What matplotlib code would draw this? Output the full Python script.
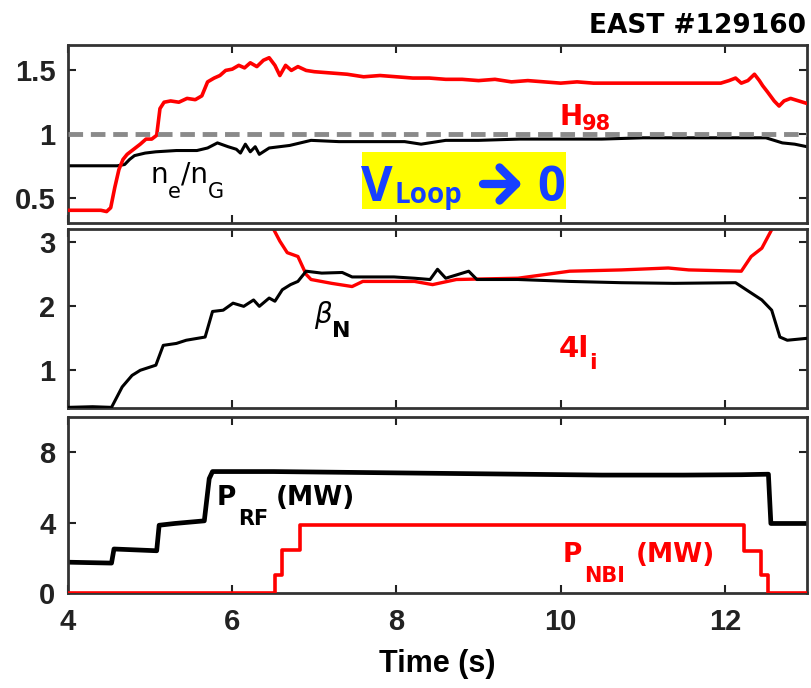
import matplotlib
matplotlib.use("Agg")
import matplotlib.pyplot as plt
from matplotlib.patches import Rectangle, FancyArrowPatch

# ---------------- data ----------------
# Panel 1: confinement factor H98 and Greenwald fraction ne/nG
t_h98 = [4.0, 4.2, 4.4, 4.47, 4.52, 4.57, 4.62, 4.67, 4.72, 4.8, 4.88, 4.95,
         5.02, 5.08, 5.12, 5.17, 5.25, 5.35, 5.45, 5.55, 5.63, 5.7, 5.78,
         5.85, 5.92, 6.0, 6.08, 6.15, 6.22, 6.3, 6.38, 6.45, 6.52, 6.58,
         6.65, 6.72, 6.8, 6.9, 7.0, 7.2, 7.4, 7.6, 7.8, 8.0, 8.2, 8.4, 8.6,
         8.8, 9.0, 9.2, 9.4, 9.6, 9.8, 10.0, 10.2, 10.4, 10.6, 10.8, 11.0,
         11.2, 11.4, 11.6, 11.8, 11.95, 12.05, 12.13, 12.2, 12.28, 12.36,
         12.42, 12.46, 12.52, 12.6, 12.66, 12.72, 12.8, 12.9, 13.0]
h98 = [0.40, 0.40, 0.40, 0.39, 0.42, 0.58, 0.72, 0.80, 0.84, 0.88, 0.92, 0.96,
       0.96, 0.99, 1.20, 1.25, 1.26, 1.25, 1.28, 1.27, 1.30, 1.41, 1.44,
       1.46, 1.50, 1.51, 1.54, 1.52, 1.56, 1.53, 1.58, 1.60, 1.54, 1.46,
       1.54, 1.50, 1.53, 1.50, 1.49, 1.48, 1.47, 1.45, 1.46, 1.45, 1.44,
       1.44, 1.43, 1.43, 1.42, 1.43, 1.41, 1.42, 1.41, 1.40, 1.41, 1.40,
       1.40, 1.40, 1.40, 1.40, 1.40, 1.40, 1.40, 1.40, 1.42, 1.44, 1.40,
       1.42, 1.47, 1.42, 1.38, 1.33, 1.26, 1.22, 1.26, 1.28, 1.26, 1.24]

t_ne = [4.0, 4.3, 4.6, 4.69, 4.75, 4.81, 4.94, 5.07, 5.32, 5.57, 5.7, 5.82,
        5.95, 6.05, 6.1, 6.16, 6.22, 6.28, 6.33, 6.45, 6.7, 6.96, 7.3, 7.7,
        8.1, 8.3, 8.6, 9.0, 9.5, 10.0, 10.5, 11.0, 11.5, 12.0, 12.5, 12.6,
        12.7, 12.85, 13.0]
ne_ng = [0.75, 0.75, 0.75, 0.76, 0.80, 0.83, 0.85, 0.86, 0.87, 0.87, 0.89,
         0.93, 0.90, 0.88, 0.85, 0.92, 0.86, 0.90, 0.84, 0.89, 0.91, 0.95,
         0.94, 0.94, 0.94, 0.92, 0.95, 0.95, 0.96, 0.96, 0.96, 0.97, 0.97,
         0.97, 0.97, 0.95, 0.93, 0.92, 0.90]

# Panel 2: normalised beta and 4*internal inductance
t_beta = [4.0, 4.3, 4.53, 4.66, 4.78, 4.88, 5.07, 5.16, 5.32, 5.44, 5.67,
          5.76, 5.89, 6.01, 6.14, 6.26, 6.33, 6.45, 6.52, 6.61, 6.71, 6.8,
          6.9, 7.09, 7.34, 7.46, 7.72, 7.97, 8.22, 8.41, 8.5, 8.6, 8.88,
          8.98, 9.48, 10.11, 10.74, 11.38, 12.13, 12.26, 12.45, 12.57,
          12.67, 12.76, 13.0]
beta_n = [0.41, 0.42, 0.41, 0.73, 0.91, 0.99, 1.07, 1.38, 1.41, 1.46, 1.51,
          1.91, 1.93, 2.04, 1.99, 2.09, 1.99, 2.12, 2.07, 2.25, 2.33, 2.38,
          2.54, 2.51, 2.52, 2.45, 2.45, 2.45, 2.43, 2.41, 2.57, 2.43, 2.54,
          2.41, 2.41, 2.38, 2.36, 2.35, 2.36, 2.25, 2.09, 1.93, 1.51, 1.46,
          1.49]

t_li = [6.42, 6.58, 6.67, 6.8, 6.9, 6.96, 7.21, 7.46, 7.59, 8.22, 8.44,
        8.73, 9.48, 10.11, 10.74, 11.31, 11.56, 12.2, 12.32, 12.45, 12.57,
        12.62]
four_li = [3.4, 3.01, 2.83, 2.77, 2.49, 2.41, 2.35, 2.30, 2.38, 2.38, 2.33,
           2.41, 2.43, 2.54, 2.56, 2.59, 2.56, 2.54, 2.77, 2.90, 3.19, 3.4]

# Panel 3: heating powers (MW)
t_rf = [4.0, 4.53, 4.56, 5.08, 5.11, 5.3, 5.66, 5.72, 5.76, 6.5, 7.5, 8.5,
        9.5, 10.5, 11.5, 12.2, 12.53, 12.56, 13.0]
p_rf = [1.75, 1.7, 2.5, 2.4, 3.85, 3.95, 4.1, 6.5, 6.9, 6.9, 6.85, 6.8,
        6.75, 6.7, 6.7, 6.72, 6.75, 3.95, 3.95]

t_nbi = [4.0, 6.52, 6.61, 6.82, 12.23, 12.44, 12.52, 13.0]
p_nbi = [0.0, 1.05, 2.45, 3.85, 2.4, 1.05, 0.0, 0.0]

x_ticks = [4, 6, 8, 10, 12]
y1_ticks, y1_labels = [0.5, 1.0, 1.5], ["0.5", "1", "1.5"]
y2_ticks, y2_labels = [1, 2, 3], ["1", "2", "3"]
y3_ticks, y3_labels = [0, 4, 8], ["0", "4", "8"]

# ---------------- style ----------------
RED = "#ff0000"
BLUE = "#1740ff"
plt.rcParams["font.family"] = ["Liberation Sans", "DejaVu Sans"]
plt.rcParams["font.weight"] = "bold"

W_PX, H_PX = 812, 688
fig = plt.figure(figsize=(W_PX / 100, H_PX / 100), dpi=100)


def fx(px):
    return px / W_PX


def fy(py):
    return 1 - py / H_PX


left, right = 68, 807
ax1 = fig.add_axes([fx(left), fy(223), fx(right - left), 178 / H_PX])
ax2 = fig.add_axes([fx(left), fy(408), fx(right - left), 179 / H_PX])
ax3 = fig.add_axes([fx(left), fy(593), fx(right - left), 176 / H_PX])

for ax in (ax1, ax2, ax3):
    ax.set_xlim(4, 13)
    ax.set_xticks(x_ticks)
    ax.tick_params(direction="in", length=6, width=1.5, top=True, right=True,
                   labelsize=21, pad=9, colors="#222222")
    for sp in ax.spines.values():
        sp.set_linewidth(2.0)
        sp.set_color("#333333")
for ax in (ax1, ax2):
    ax.tick_params(labelbottom=False)

ax1.set_ylim(0.3, 1.7)
ax1.set_yticks(y1_ticks, y1_labels)
ax2.set_ylim(0.4, 3.2)
ax2.set_yticks(y2_ticks, y2_labels)
ax3.set_ylim(0, 10)
ax3.set_yticks(y3_ticks, y3_labels)
ax3.tick_params(axis="x", pad=11)
ax3.set_xlabel("Time (s)", fontsize=22, fontweight="bold", labelpad=9)

# ---------------- curves ----------------
ax1.plot(t_ne, ne_ng, color="black", lw=2.2, zorder=2)
ax1.plot(t_h98, h98, color=RED, lw=2.6, zorder=3)
ax1.axhline(1.0, color="#8a8a8a", lw=3.5, dashes=(3, 1.6), zorder=4)

ax2.plot(t_li, four_li, color=RED, lw=2.4, zorder=2)
ax2.plot(t_beta, beta_n, color="black", lw=2.2, zorder=3)

ax3.plot(t_rf, p_rf, color="black", lw=3.4, zorder=2)
ax3.plot(t_nbi, p_nbi, color=RED, lw=2.6, drawstyle="steps-post", zorder=3)


# ---------------- labels with subscripts ----------------
def sub_label(ax, x, y, parts, color):
    """parts: (text, size, drop_pt, gap_pt, weight, style)"""
    prev = None
    for text, size, drop, gap, weight, style in parts:
        kw = dict(fontsize=size, color=color, family="DejaVu Sans",
                  fontweight=weight, fontstyle=style, ha="left", va="baseline")
        if prev is None:
            prev = ax.text(x, y, text, **kw)
        else:
            prev = ax.annotate(text, xy=(1, y), xycoords=(prev, "data"),
                               xytext=(gap, -drop), textcoords="offset points",
                               **kw)


sub_label(ax1, 9.98, 1.067, [("H", 20, 0, 0, "bold", "normal"),
                             ("98", 15, 3.6, 0, "bold", "normal")], RED)
sub_label(ax1, 5.0, 0.618, [("n", 20, 0, 0, "normal", "normal"),
                            ("e", 15, 10.8, 0, "normal", "normal"),
                            ("/n", 20, 0, 0, "normal", "normal"),
                            ("G", 15, 10.8, 0, "normal", "normal")], "black")
sub_label(ax2, 7.0, 1.725, [("β", 20, 0, 0, "normal", "italic"),
                            ("N", 16, 10, 0, "bold", "normal")], "black")
sub_label(ax2, 9.98, 1.196, [("4l", 21, 0, 0, "bold", "normal"),
                             ("i", 16, 8.6, 0, "bold", "normal")], RED)
sub_label(ax3, 5.81, 5.01, [("P", 19, 0, 0, "bold", "normal"),
                            ("RF", 15, 14.4, 1.5, "bold", "normal"),
                            ("(MW)", 19, 0, 5, "bold", "normal")], "black")
sub_label(ax3, 10.02, 1.746, [("P", 19, 0, 0, "bold", "normal"),
                              ("NBI", 15, 14.4, 1.5, "bold", "normal"),
                              ("(MW)", 19, 0, 8, "bold", "normal")], RED)

# shot number
fig.text(fx(806), fy(33), "EAST #129160", ha="right", va="baseline",
         fontsize=19, fontweight="bold", family="DejaVu Sans", color="black")

# loop-voltage callout on a yellow box
fig.patches.append(Rectangle((fx(362), fy(209)), fx(204), 57 / H_PX,
                             transform=fig.transFigure, facecolor="#ffff00",
                             edgecolor="none", zorder=5))
vk = dict(color=BLUE, fontweight="bold", family="Open Sans", va="baseline",
          ha="left", zorder=6)
fig.text(fx(361), fy(201), "V", fontsize=35, **vk)
fig.text(fx(395), fy(203), "Loop", fontsize=20, **vk)
fig.text(fx(537), fy(201), "0", fontsize=35, **vk)
fig.add_artist(FancyArrowPatch((fx(483), fy(184)), (fx(522), fy(184)),
                               transform=fig.transFigure,
                               arrowstyle="->,head_length=0.85,head_width=0.85",
                               mutation_scale=14, lw=6, color=BLUE,
                               shrinkA=0, shrinkB=0, zorder=6))

fig.savefig("out.png", dpi=100)
